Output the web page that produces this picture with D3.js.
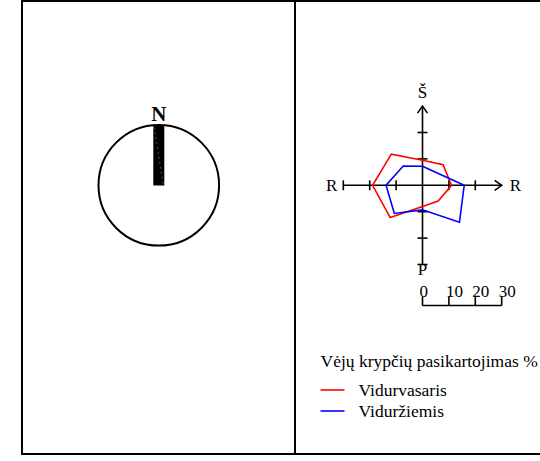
<!DOCTYPE html>
<html>
<head>
<meta charset="utf-8">
<script src="https://cdn.jsdelivr.net/npm/d3@7"></script>
<style>
  body { margin: 0; background: #fff; }
</style>
</head>
<body>
<div id="chart"></div>
<script>
// wind directions, clockwise from north
var directions = ["Š", "ŠR", "R", "PR", "P", "PV", "V", "ŠV"];
// frequency of wind directions, %
var summerValues = [9.5, 11, 11, 8.4, 8, 17.3, 18.9, 16.7];
var winterValues = [7.2, 7, 15.8, 19.8, 9.3, 15.1, 13.8, 10.3];
var axisTicks = [10, 20];
var scaleTicks = [0, 10, 20, 30];
var legendTitle = "Vėjų krypčių pasikartojimas %";
var seriesNames = ["Vidurvasaris", "Viduržiemis"];
var seriesColors = ["#ff0000", "#0000ff"];

var width = 540, height = 461;

var svg = d3.select("#chart")
  .append("svg")
  .attr("width", width)
  .attr("height", height)
  .attr("font-family", "'Liberation Serif', 'Times New Roman', serif");

// frame
svg.append("rect")
  .attr("x", 22).attr("y", 1)
  .attr("width", 540).attr("height", 453)
  .attr("fill", "none").attr("stroke", "#000").attr("stroke-width", 2);
svg.append("line")
  .attr("x1", 295).attr("x2", 295).attr("y1", 0).attr("y2", 454)
  .attr("stroke", "#000").attr("stroke-width", 2);

// compass on the left
var cx = 158.8, cy = 185.3;
svg.append("circle")
  .attr("cx", cx).attr("cy", cy).attr("r", 60.3)
  .attr("fill", "none").attr("stroke", "#000").attr("stroke-width", 2);
svg.append("rect")
  .attr("x", cx - 5.5).attr("y", cy - 60.3)
  .attr("width", 11).attr("height", 60.5)
  .attr("fill", "#000");
svg.append("line")
  .attr("x1", cx - 4.5).attr("y1", cy - 58)
  .attr("x2", cx + 4.5).attr("y2", cy)
  .attr("stroke", "#888").attr("stroke-width", 0.6).attr("stroke-dasharray", "2,3");
svg.append("text")
  .attr("x", cx).attr("y", 121)
  .attr("text-anchor", "middle")
  .style("font-size", "21px").style("font-weight", "bold")
  .text("N");

// wind rose
var ox = 422.5, oy = 185.3;
var r = d3.scaleLinear().domain([0, 30]).range([0, 79.2]);
var g = svg.append("g").attr("transform", "translate(" + ox + "," + oy + ")");

var angle = d3.scaleLinear().domain([0, directions.length]).range([0, 2 * Math.PI]);

function point(v, i) {
  var a = angle(i);
  return [r(v) * Math.sin(a), -r(v) * Math.cos(a)];
}

function styled(sel) {
  return sel.attr("stroke", "#000").attr("stroke-width", 1.6).attr("fill", "none");
}

// axes lines
styled(g.append("line").attr("x1", -r(30)).attr("x2", r(30)).attr("y1", 0).attr("y2", 0));
styled(g.append("line").attr("x1", 0).attr("x2", 0).attr("y1", -r(30)).attr("y2", r(30)));

// axis ticks
axisTicks.forEach(function(t) {
  styled(g.append("line").attr("x1", -r(t)).attr("x2", -r(t)).attr("y1", -5).attr("y2", 5));
  styled(g.append("line").attr("x1", r(t)).attr("x2", r(t)).attr("y1", -5).attr("y2", 5));
  styled(g.append("line").attr("y1", -r(t)).attr("y2", -r(t)).attr("x1", -5).attr("x2", 5));
  styled(g.append("line").attr("y1", r(t)).attr("y2", r(t)).attr("x1", -5).attr("x2", 5));
});
// end caps
styled(g.append("line").attr("x1", -r(30)).attr("x2", -r(30)).attr("y1", -5).attr("y2", 5));
styled(g.append("line").attr("y1", r(30)).attr("y2", r(30)).attr("x1", -5).attr("x2", 5));
// arrows
styled(g.append("path").attr("d", "M" + (r(30) - 7) + ",-5L" + r(30) + ",0L" + (r(30) - 7) + ",5"));
styled(g.append("path").attr("d", "M-5," + (-r(30) + 7) + "L0," + (-r(30)) + "L5," + (-r(30) + 7)));

// polygons
var line = d3.line().curve(d3.curveLinearClosed);
[summerValues, winterValues].forEach(function(vals, k) {
  g.append("path")
    .attr("d", line(vals.map(point)))
    .attr("fill", "none")
    .attr("stroke", seriesColors[k])
    .attr("stroke-width", 1.6);
});

// direction labels
g.append("text").attr("x", 0).attr("y", -r(30) - 8).attr("text-anchor", "middle")
  .style("font-size", "17px").text(directions[0]);
g.append("text").attr("x", 0).attr("y", r(30) + 11).attr("text-anchor", "middle")
  .style("font-size", "17px").text(directions[4]);
g.append("text").attr("x", -r(30) - 6).attr("y", 6).attr("text-anchor", "end")
  .style("font-size", "17px").text(directions[2]);
g.append("text").attr("x", r(30) + 8).attr("y", 6).attr("text-anchor", "start")
  .style("font-size", "17px").text(directions[2]);

// scale bar
var sb = svg.append("g").attr("transform", "translate(" + ox + ",305.5)");
styled(sb.append("line").attr("x1", r(0)).attr("x2", r(30)).attr("y1", 0).attr("y2", 0));
sb.selectAll(".sbtick")
  .data(scaleTicks)
  .enter()
  .append("line")
  .attr("x1", function(d) { return r(d); })
  .attr("x2", function(d) { return r(d); })
  .attr("y1", 0).attr("y2", -9)
  .attr("stroke", "#000").attr("stroke-width", 1.6);
sb.selectAll(".sblabel")
  .data(scaleTicks)
  .enter()
  .append("text")
  .attr("x", function(d) { return r(d) - 3; })
  .attr("y", -9)
  .style("font-size", "17px")
  .text(function(d) { return d; });

// legend
svg.append("text")
  .attr("x", 320.5).attr("y", 366.5)
  .style("font-size", "17.5px")
  .text(legendTitle);
seriesNames.forEach(function(name, k) {
  var y = 390 + k * 21;
  svg.append("line")
    .attr("x1", 320.5).attr("x2", 344.5).attr("y1", y).attr("y2", y)
    .attr("stroke", seriesColors[k]).attr("stroke-width", 1.6);
  svg.append("text")
    .attr("x", 358.5).attr("y", y + 6)
    .style("font-size", "17.5px")
    .text(name);
});
</script>
</body>
</html>
